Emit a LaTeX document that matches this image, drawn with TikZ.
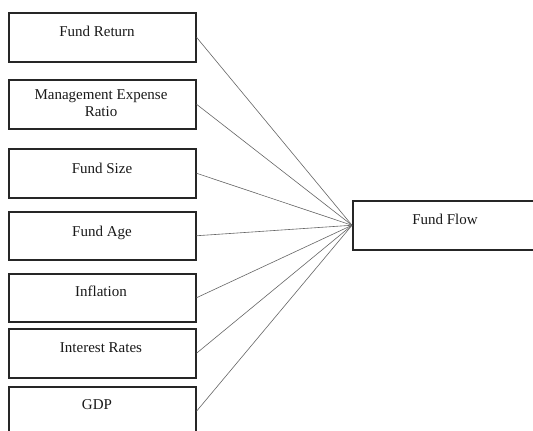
\documentclass[tikz,border=0pt]{standalone}
\usepackage{fontspec}
\setmainfont{Liberation Serif}
\begin{document}
\begin{tikzpicture}[x=1pt,y=-1pt,
  box/.style={draw=black!85,line width=1.5pt,minimum width=187pt,inner sep=0pt,anchor=north west},
  lbl/.style={anchor=north,inner sep=0pt,align=center,font=\fontsize{15}{17}\selectfont,text=black!90},
  link/.style={draw=black!60,line width=0.6pt}]
\useasboundingbox (0,0) rectangle (533,431);
\clip (0,0) rectangle (533,431);
\fill[white] (0,0) rectangle (533,431);
\node[box,minimum height=49pt] (b1) at (8,12) {};
\node[box,minimum height=49pt] (b2) at (8,79) {};
\node[box,minimum height=49pt] (b3) at (8,148) {};
\node[box,minimum height=48pt] (b4) at (8,211) {};
\node[box,minimum height=48pt] (b5) at (8,273) {};
\node[box,minimum height=49pt] (b6) at (8,328) {};
\node[box,minimum height=49pt] (b7) at (8,386) {};
\node[box,minimum width=184pt,minimum height=49pt] (ff) at (352,200) {};
\node[lbl] (t1) at (97,26) {Fund Return};
\node[lbl] (t2) at (101,89) {Management Expense\\Ratio};
\node[lbl] (t3) at (102,163) {Fund Size};
\node[lbl] (t4) at (102,226) {Fund Age};
\node[lbl] (t5) at (101,286) {Inflation};
\node[lbl] (t6) at (101,342) {Interest Rates};
\node[lbl] (t7) at (97,399) {GDP};
\node[lbl] (t8) at (445,214) {Fund Flow};
\foreach \b in {b1,b2,b3,b4,b5,b6,b7}
  \draw[link] (\b.east) -- (ff.west);
\end{tikzpicture}
\end{document}
